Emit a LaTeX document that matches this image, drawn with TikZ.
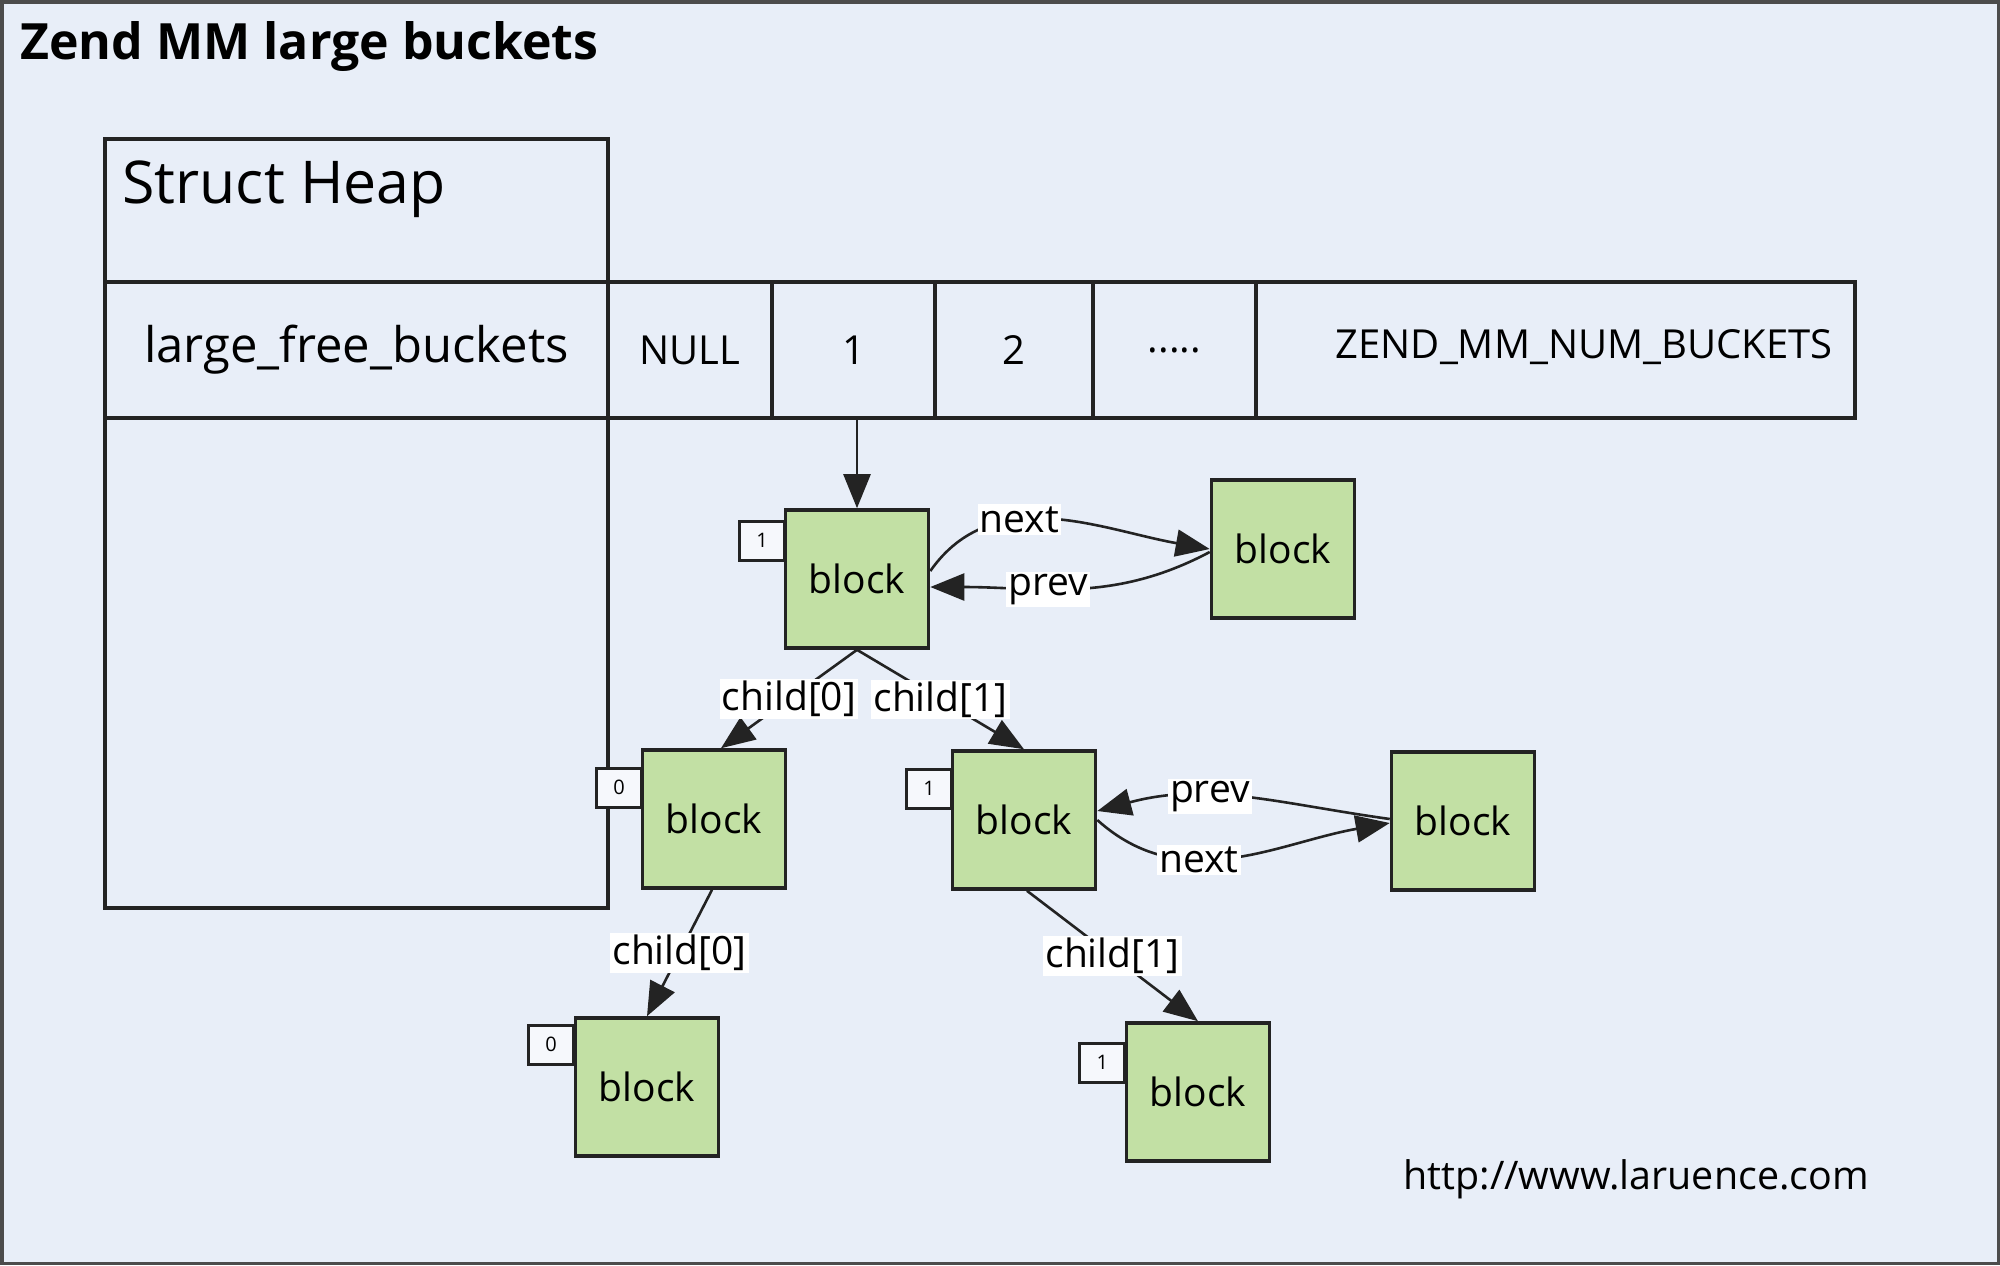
\documentclass[tikz,border=0pt]{standalone}
\usepackage{fontspec}
\setmainfont{Open Sans}
\usetikzlibrary{arrows.meta,calc}
\definecolor{bg}{RGB}{232,238,248}
\definecolor{blkfill}{RGB}{194,224,164}
\definecolor{edgec}{RGB}{35,35,35}
\begin{document}
\begin{tikzpicture}[x=0.5pt,y=0.5pt,
  cell/.style={draw=edgec,line width=1.6pt,inner sep=0pt,minimum height=68pt,font=\fontsize{20}{24}\selectfont},
  blk/.style={draw=edgec,fill=blkfill,line width=1.8pt,minimum width=71.5pt,minimum height=69pt,inner sep=0pt,font=\fontsize{19.5}{23}\selectfont},
  tagbox/.style={draw=edgec,fill=bg!40!white,line width=1.3pt,minimum width=22.5pt,minimum height=19.5pt,inner sep=0pt,font=\fontsize{10}{12}\selectfont},
  lbl/.style={fill=white,inner sep=1pt,font=\fontsize{19.5}{23}\selectfont},
  arr/.style={draw=edgec,line width=1.3pt,-{Triangle[length=17pt,width=13.5pt]}},
  plain/.style={inner sep=0pt}]
\useasboundingbox (0,0) rectangle (2000,-1265);
\fill[bg] (0,0) rectangle (2000,-1265);
\draw[black!70,line width=1.75pt] (1.75,-1.75) rectangle (1998.25,-1263.25);
% title
\node[plain,anchor=west,font=\bfseries\fontsize{25}{30}\selectfont] (title) at (20,-47) {Zend MM large buckets};
% struct heap
\node[draw=edgec,line width=1.6pt,minimum width=251.5pt,minimum height=384.5pt,inner sep=0pt] (heap) at (356.5,-523.5) {};
\node[plain,anchor=west,font=\fontsize{29.5}{34}\selectfont] (sh) at (122,-189) {Struct Heap};
% bucket row
\node[cell,minimum width=251.5pt,font=\fontsize{24.5}{28}\selectfont] (lfb) at (356.5,-350) {large\_free\_buckets};
\node[cell,minimum width=82pt] (cnull) at (690,-350) {NULL};
\node[cell,minimum width=81.5pt] (c1) at (853.5,-350) {1};
\node[cell,minimum width=79pt] (c2) at (1014,-350) {2};
\node[cell,minimum width=81.5pt] (cdots) at (1174.5,-350) {.....};
\node[cell,minimum width=299.5pt] (cnum) at (1555.5,-350) {};
\node[plain,anchor=east,font=\fontsize{20}{24}\selectfont] (numtxt) at (1833,-347) {ZEND\_MM\_NUM\_BUCKETS};
% tags
\node[tagbox,anchor=north east] (t1) at (786,-520) {1};
\node[tagbox,anchor=north east] (t2) at (643,-767) {0};
\node[tagbox,anchor=north east] (t3) at (953,-768) {1};
\node[tagbox,anchor=north east] (t4) at (575,-1024) {0};
\node[tagbox,anchor=north east] (t5) at (1126,-1042) {1};
% blocks
\node[blk] (blk1) at (857,-579) {block};
\node[blk] (blk1n) at (1283,-549) {block};
\node[blk] (blk2) at (714,-819) {block};
\node[blk] (blk3) at (1024,-820) {block};
\node[blk] (blk3n) at (1463,-821) {block};
\node[blk] (blk4) at (647,-1087) {block};
\node[blk] (blk5) at (1198,-1092) {block};
% connectors
\draw[arr] (blk1.north |- c1.south) -- (blk1.north);
\draw[arr] ($(blk1.east)+(0,8)$) to[out=55,in=170] node[lbl,pos=0.38] {next} (blk1n.west);
\draw[arr] ($(blk1n.west)+(0,-3)$) to[out=208,in=0] node[lbl,pos=0.6] {prev} ($(blk1.east)+(0,-8)$);
\draw[arr] (blk1.south) -- node[lbl] {child[0]} ($(blk2.north)+(7,0)$);
\draw[arr] (blk1.south) -- node[lbl] {child[1]} (blk3.north);
\draw[arr] ($(blk3n.west)+(0,2)$) to[out=172,in=15] node[lbl,pos=0.62] {prev} ($(blk3.east)+(0,9)$);
\draw[arr] (blk3.east) to[out=-42,in=190] node[lbl,pos=0.38] {next} ($(blk3n.west)+(0,-2)$);
\draw[arr] ($(blk2.south)+(-2,0)$) -- node[lbl] {child[0]} (blk4.north);
\draw[arr] ($(blk3.south)+(3,0)$) -- node[lbl] {child[1]} (blk5.north);
% url
\node[plain,anchor=west,font=\fontsize{19.7}{24}\selectfont] (url) at (1403,-1179) {http://www.laruence.com};
\end{tikzpicture}
\end{document}
